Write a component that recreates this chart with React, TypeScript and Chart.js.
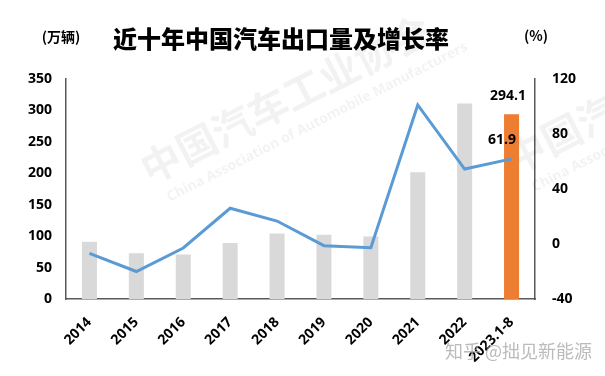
import React, { useEffect, useRef } from "react";
import { Chart, registerables } from "chart.js";

Chart.register(...registerables);

const categories = ["2014", "2015", "2016", "2017", "2018", "2019", "2020", "2021", "2022", "2023.1-8"];
const exportVolume = [91.0, 72.8, 70.8, 89.1, 104.1, 102.4, 99.5, 201.5, 311.1, 294.1];
const growthRate = [-6.8, -20.0, -2.9, 26.0, 16.7, -1.2, -2.7, 101.1, 54.5, 61.9];
const leftTicks = [0, 50, 100, 150, 200, 250, 300, 350];
const rightTicks = [-40, 0, 40, 80, 120];
const titleText = "近十年中国汽车出口量及增长率";
const leftUnit = "(万辆)";
const rightUnit = "(%)";
const sourceText = "知乎 @拙见新能源";

const NUM_FONT = "'Open Sans', 'Noto Sans CJK SC', sans-serif";
const CJK_FONT = "'Noto Sans CJK SC', 'Open Sans', sans-serif";

const overlayPlugin = {
  id: "overlayText",
  beforeDatasetsDraw(chart: any) {
    const ctx = chart.ctx;
    const drawMark = (x: number, y: number) => {
      ctx.save();
      ctx.fillStyle = "rgba(0,0,0,0.05)";
      ctx.translate(x, y);
      ctx.rotate((-27 * Math.PI) / 180);
      ctx.font = `bold 40px ${CJK_FONT}`;
      ctx.textBaseline = "alphabetic";
      ctx.fillText("中国汽车工业协会", 0, 0);
      ctx.font = `bold 14px ${NUM_FONT}`;
      ctx.fillText("China Association of Automobile Manufacturers", 10, 24);
      ctx.restore();
    };
    drawMark(150, 185);
    drawMark(515, 175);
  },
  afterDraw(chart: any) {
    const ctx = chart.ctx;
    ctx.save();
    ctx.fillStyle = "rgba(170,170,170,0.8)";
    ctx.font = `18px ${CJK_FONT}`;
    ctx.textAlign = "left";
    ctx.textBaseline = "middle";
    ctx.fillText(sourceText, 445, 351);

    ctx.fillStyle = "#000";
    ctx.textAlign = "center";
    ctx.font = `900 24px ${CJK_FONT}`;
    ctx.fillText(titleText, 281, 39);
    ctx.font = `bold 14px ${CJK_FONT}`;
    ctx.fillText(leftUnit, 61, 37);
    ctx.fillText(rightUnit, 536, 36);

    const bars = chart.getDatasetMeta(1).data;
    const pts = chart.getDatasetMeta(0).data;
    const lastBar = bars[bars.length - 1];
    const lastPt = pts[pts.length - 1];
    ctx.font = `bold 14px ${NUM_FONT}`;
    ctx.fillText(String(exportVolume[exportVolume.length - 1]), lastBar.x - 3.5, lastBar.y - 18);
    ctx.fillText(String(growthRate[growthRate.length - 1]), lastPt.x - 9.5, lastPt.y - 19);
    ctx.restore();
  },
};

export default function App() {
  const ref = useRef<HTMLCanvasElement>(null);
  useEffect(() => {
    if (!ref.current) return;
    const chart = new Chart(ref.current, {
      type: "bar",
      data: {
        labels: categories,
        datasets: [
          {
            type: "line",
            label: "增长率",
            data: growthRate,
            yAxisID: "y1",
            borderColor: "#5B9BD5",
            backgroundColor: "#5B9BD5",
            borderWidth: 3,
            pointRadius: 0,
            tension: 0,
            order: 0,
          } as any,
          {
            type: "bar",
            label: "出口量",
            data: exportVolume,
            yAxisID: "y",
            backgroundColor: categories.map((_, i) => (i === categories.length - 1 ? "#ED7D31" : "#D9D9D9")),
            barPercentage: 0.32,
            categoryPercentage: 1,
            order: 1,
          },
        ],
      },
      options: {
        responsive: false,
        animation: false,
        devicePixelRatio: 1,
        layout: { padding: { top: 79, left: 0, right: 0, bottom: 0 } },
        plugins: {
          legend: { display: false },
          tooltip: { enabled: false },
          title: { display: false },
        },
        scales: {
          x: {
            grid: { display: false, drawTicks: false },
            border: { display: true, color: "#595959", width: 1.5 },
            ticks: {
              color: "#000",
              font: { family: NUM_FONT, size: 14, weight: "bold" },
              minRotation: 45,
              maxRotation: 45,
              padding: 15,
            },
            afterFit(scale: any) {
              scale.height = 77;
            },
          },
          y: {
            position: "left",
            min: 0,
            max: 350,
            afterBuildTicks(scale: any) {
              scale.ticks = leftTicks.map((v) => ({ value: v }));
            },
            grid: { display: false, drawTicks: false },
            border: { display: true, color: "#595959", width: 1.5 },
            ticks: {
              color: "#000",
              font: { family: NUM_FONT, size: 14, weight: "bold" },
              padding: 14,
            },
            afterFit(scale: any) {
              scale.width = 66;
            },
          },
          y1: {
            position: "right",
            min: -40,
            max: 120,
            afterBuildTicks(scale: any) {
              scale.ticks = rightTicks.map((v) => ({ value: v }));
            },
            grid: { display: false, drawTicks: false },
            border: { display: true, color: "#595959", width: 1.5 },
            ticks: {
              color: "#000",
              font: { family: NUM_FONT, size: 14, weight: "bold" },
              padding: 17,
            },
            afterFit(scale: any) {
              scale.width = 70;
            },
          },
        },
      },
      plugins: [overlayPlugin],
    });
    return () => chart.destroy();
  }, []);
  return (
    <div style={{ position: "absolute", left: 0, top: 0, width: 605, height: 376, background: "#fff" }}>
      <canvas ref={ref} width={605} height={376} style={{ width: 605, height: 376, display: "block" }} />
    </div>
  );
}
